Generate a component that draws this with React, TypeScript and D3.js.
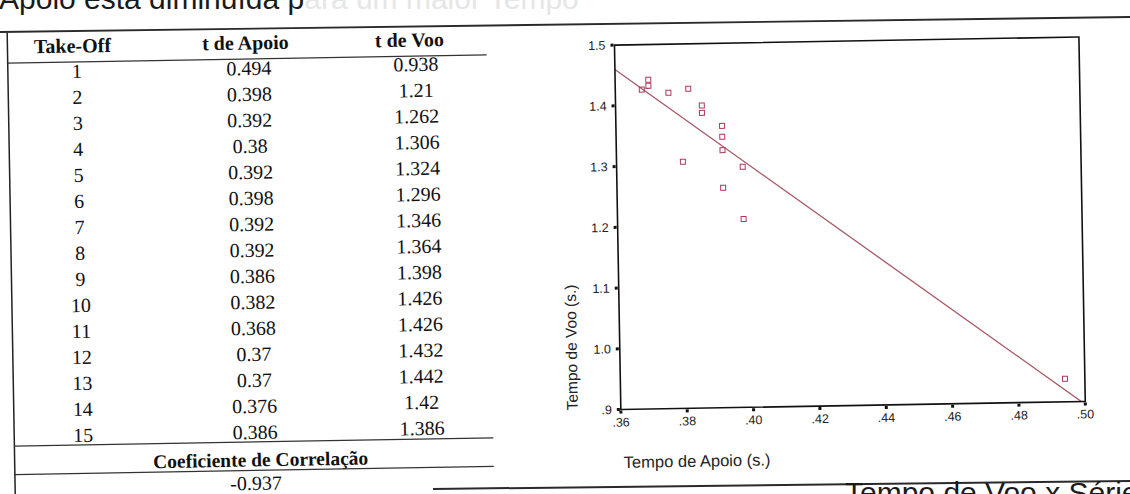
import React from "react";
import * as d3 from "d3";

// Table contents
const headers = ["Take-Off", "t de Apoio", "t de Voo"];
const takeOff = [1, 2, 3, 4, 5, 6, 7, 8, 9, 10, 11, 12, 13, 14, 15];
const tApoio = [0.494, 0.398, 0.392, 0.38, 0.392, 0.398, 0.392, 0.392, 0.386, 0.382, 0.368, 0.37, 0.37, 0.376, 0.386];
const tVoo = [0.938, 1.21, 1.262, 1.306, 1.324, 1.296, 1.346, 1.364, 1.398, 1.426, 1.426, 1.432, 1.442, 1.42, 1.386];
const correlationLabel = "Coeficiente de Correlação";
const correlation = -0.937;

// Scatter axes
const xTicks = [0.36, 0.38, 0.4, 0.42, 0.44, 0.46, 0.48, 0.5];
const yTicks = [0.9, 1.0, 1.1, 1.2, 1.3, 1.4, 1.5];
const xTitle = "Tempo de Apoio (s.)";
const yTitle = "Tempo de Voo (s.)";

// Surrounding page text
const topText = "Apoio esta diminuída p";
const topTextFaded = "ara um maior Tempo";
const bottomText = "Tempo de Voo x Série";

const W = 1130;
const H = 494;
const SERIF = "'Liberation Serif', 'Times New Roman', serif";
const SANS = "'Liberation Sans', Arial, sans-serif";

// SPSS-style tick text: no leading zero
const fmtX = (v: number) => d3.format(".2f")(v).replace(/^0/, "");
const fmtY = (v: number) => d3.format(".1f")(v).replace(/^0/, "");

export default function App() {
  // table geometry
  const tLeft = 11;
  const tRight = 490;
  const headX = [76, 249, 413];
  const colX = [80, 252, 419];
  const headerBase = 44;
  const headerLine = 53.5;
  const row0 = 69.5;
  const rowStep = 26;
  const lastRowLine = row0 + 14 * rowStep + 3;
  const coefBase = 461;
  const coefLine = 465;
  const corrBase = 484.5;

  // plot geometry
  const pl = 618;
  const pr = 1082.5;
  const pt = 46;
  const pb = 410.5;

  const x = d3.scaleLinear().domain([0.36, 0.5]).range([pl, pr]);
  const y = d3.scaleLinear().domain([0.9, 1.5]).range([pb, pt]);

  // least-squares fit of t de Voo on t de Apoio
  const mx = d3.mean(tApoio)!;
  const my = d3.mean(tVoo)!;
  const sxy = d3.sum(tApoio, (v, i) => (v - mx) * (tVoo[i] - my));
  const sxx = d3.sum(tApoio, (v) => (v - mx) * (v - mx));
  const slope = sxy / sxx;
  const intercept = my - slope * mx;
  const fit = (v: number) => intercept + slope * v;
  const fitLine = d3.line<number>().x((v) => x(v)).y((v) => y(fit(v)))(x.domain());

  const points = tApoio.map((v, i) => ({ a: v, b: tVoo[i] }));
  const sq = 5;

  return (
    <svg
      width={W}
      height={H}
      style={{ position: "absolute", left: 0, top: 0, background: "#fff" }}
    >
      <defs>
        <clipPath id="plotClip">
          <rect x={pl} y={pt} width={pr - pl} height={pb - pt} />
        </clipPath>
      </defs>

      {/* page heading, cut at the top */}
      <text x={-1} y={9} fontFamily={SANS} fontSize={30} fill="#1a1a1a">
        {topText}
        <tspan fill="#e6e6e6">{topTextFaded}</tspan>
      </text>
      {/* page rule */}
      <line x1={0} y1={32} x2={W} y2={17} stroke="#2a2a2a" strokeWidth={1.8} />

      <g transform={`rotate(-1, ${W / 2}, ${H / 2})`}>
        {/* ---- table ---- */}
        <line x1={tLeft} x2={tLeft} y1={23} y2={H + 20} stroke="#222" strokeWidth={1.5} />
        {headers.map((h, i) => (
          <text
            key={h}
            x={headX[i]}
            y={headerBase}
            textAnchor="middle"
            fontFamily={SERIF}
            fontWeight="bold"
            fontSize={20}
            fill="#111"
          >
            {h}
          </text>
        ))}
        <line x1={tLeft} x2={tRight} y1={headerLine} y2={headerLine} stroke="#333" strokeWidth={1.3} />
        {takeOff.map((t, i) => (
          <g key={t} fontFamily={SERIF} fontSize={20} fill="#111" textAnchor="middle">
            <text x={colX[0]} y={row0 + i * rowStep}>{t}</text>
            <text x={colX[1]} y={row0 + i * rowStep}>{String(tApoio[i])}</text>
            <text x={colX[2]} y={row0 + i * rowStep - 1}>{String(tVoo[i])}</text>
          </g>
        ))}
        <line x1={tLeft} x2={tRight} y1={lastRowLine} y2={lastRowLine} stroke="#333" strokeWidth={1.3} />
        <text
          x={257}
          y={coefBase}
          textAnchor="middle"
          fontFamily={SERIF}
          fontWeight="bold"
          fontSize={19.5}
          fill="#111"
        >
          {correlationLabel}
        </text>
        <line x1={tLeft} x2={tRight} y1={coefLine} y2={coefLine} stroke="#333" strokeWidth={1.3} />
        <text x={colX[1]} y={corrBase} textAnchor="middle" fontFamily={SERIF} fontSize={20} fill="#111">
          {String(correlation)}
        </text>

        {/* ---- scatter plot ---- */}
        <g clipPath="url(#plotClip)">
          <path d={fitLine ?? ""} fill="none" stroke="#a65862" strokeWidth={1.3} />
          {points.map((p, i) => (
            <rect
              key={i}
              x={x(p.a) - sq / 2}
              y={y(p.b) - sq / 2}
              width={sq}
              height={sq}
              fill="none"
              stroke="#b0365c"
              strokeWidth={1}
            />
          ))}
        </g>
        <rect x={pl} y={pt} width={pr - pl} height={pb - pt} fill="none" stroke="#111" strokeWidth={1.6} />

        {yTicks.map((t) => (
          <g key={t}>
            <rect x={pl - 4} y={y(t) - 1.5} width={3} height={3} fill="#111" />
            <text
              x={pl - 9}
              y={y(t)}
              dy="0.35em"
              textAnchor="end"
              fontFamily={SANS}
              fontSize={12.5}
              fill="#222"
            >
              {fmtY(t)}
            </text>
          </g>
        ))}
        {xTicks.map((t) => (
          <g key={t}>
            <rect x={x(t) - 1.5} y={pb + 1} width={3} height={3} fill="#111" />
            <text
              x={x(t)}
              y={pb + 17}
              textAnchor="middle"
              fontFamily={SANS}
              fontSize={12.5}
              fill="#222"
            >
              {fmtX(t)}
            </text>
          </g>
        ))}

        <text x={620} y={469} fontFamily={SANS} fontSize={16.5} fill="#222">
          {xTitle}
        </text>
        <text
          transform={`translate(575, ${pb}) rotate(-90)`}
          fontFamily={SANS}
          fontSize={15.5}
          fill="#222"
        >
          {yTitle}
        </text>
      </g>

      {/* rule and heading below the figure */}
      <line x1={433} y1={489} x2={W} y2={481} stroke="#2a2a2a" strokeWidth={2} />
      <text x={845} y={503} fontFamily={SANS} fontSize={30} fill="#1a1a1a">
        {bottomText}
      </text>
    </svg>
  );
}
